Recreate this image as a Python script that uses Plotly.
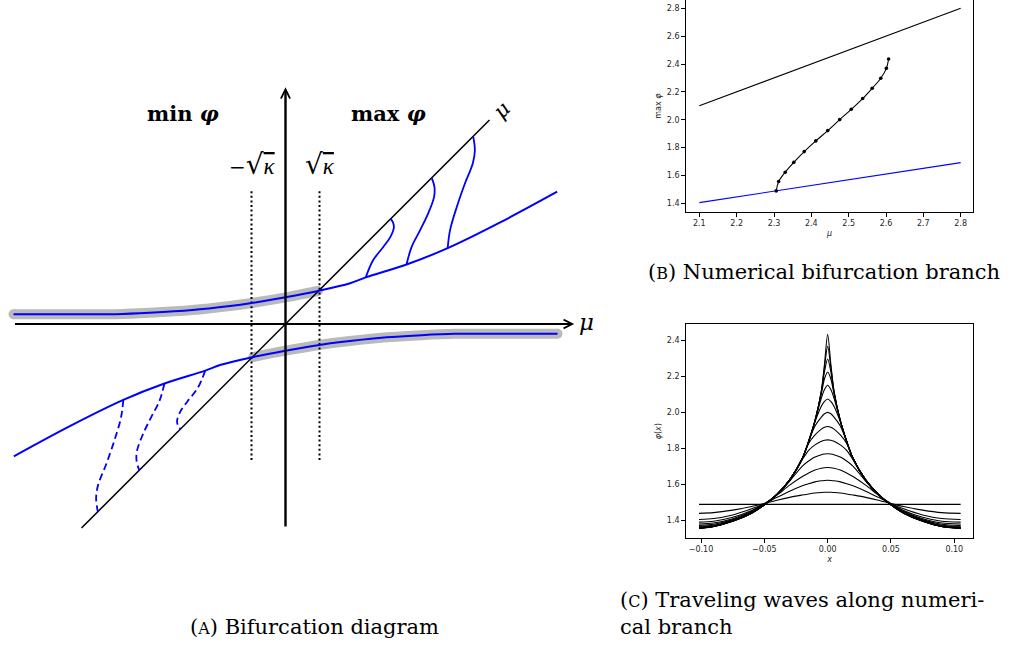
import plotly.graph_objects as go

# ---------------- panel A: schematic bifurcation diagram (units of sqrt(kappa)) ----------------
upper_x = [-8.0, -6.5, -5.0, -4.0, -2.74, -1.63, -1.04, 0.0, 0.99, 1.90, 2.36, 3.56, 4.77, 6.3, 7.99]
upper_y = [0.285, 0.285, 0.29, 0.33, 0.41, 0.53, 0.61, 0.785, 0.98, 1.20, 1.37, 1.75, 2.23, 2.98, 3.89]
lower_x = [8.0, 6.5, 5.0, 4.0, 2.74, 1.63, 1.04, 0.0, -0.99, -1.90, -2.36, -3.56, -4.77, -6.3, -7.99]
lower_y = [-0.285, -0.285, -0.29, -0.33, -0.41, -0.53, -0.61, -0.785, -0.98, -1.20, -1.37, -1.75, -2.23, -2.98, -3.89]

halo_up_x = [-8.0, -6.5, -5.0, -4.0, -2.74, -1.63, -1.04, 0.0, 0.95]
halo_up_y = [0.285, 0.285, 0.29, 0.33, 0.41, 0.53, 0.61, 0.785, 0.97]
halo_lo_x = [-0.95, 0.0, 1.04, 1.63, 2.74, 4.0, 5.0, 6.5, 8.0]
halo_lo_y = [-0.97, -0.785, -0.61, -0.53, -0.41, -0.33, -0.29, -0.285, -0.285]

diag_x = [-6.0, 6.0]
diag_y = [-6.0, 6.0]

# solid branches (max phi) and dashed branches (min phi)
solid = [
    ([2.36, 2.58, 2.88, 3.09, 3.19, 3.15, 3.09], [1.37, 1.88, 2.27, 2.57, 2.86, 3.01, 3.09]),
    ([3.56, 3.71, 3.96, 4.20, 4.37, 4.38, 4.30], [1.75, 2.27, 2.76, 3.26, 3.74, 4.04, 4.30]),
    ([4.77, 4.84, 5.04, 5.28, 5.51, 5.57, 5.52], [2.23, 2.76, 3.45, 4.14, 4.73, 5.12, 5.52]),
]
dashed = [
    ([-2.36, -2.58, -2.88, -3.09, -3.19, -3.15, -3.09], [-1.37, -1.88, -2.27, -2.57, -2.86, -3.01, -3.09]),
    ([-3.56, -3.71, -3.96, -4.20, -4.37, -4.38, -4.30], [-1.75, -2.27, -2.76, -3.26, -3.74, -4.04, -4.30]),
    ([-4.77, -4.84, -5.04, -5.28, -5.51, -5.57, -5.52], [-2.23, -2.76, -3.45, -4.14, -4.73, -5.12, -5.52]),
]
kappa_marks = [-1.0, 1.0]

# ---------------- panel B: numerical bifurcation branch ----------------
mu_line = [2.1, 2.8]
diag_line = [2.1, 2.8]
const_line = [1.405, 1.692]
branch_mu = [2.306, 2.3125, 2.330, 2.353, 2.381, 2.412, 2.444, 2.476, 2.507, 2.5375, 2.563, 2.586, 2.601, 2.607]
branch_max = [1.489, 1.556, 1.623, 1.694, 1.771, 1.848, 1.922, 2.001, 2.075, 2.152, 2.226, 2.298, 2.369, 2.436]

# ---------------- panel C: traveling waves along the branch ----------------
wave_x = [-0.1016, -0.09, -0.075, -0.06, -0.05, -0.04, -0.03, -0.02, -0.015, -0.01, -0.005, -0.0025,
          0.0, 0.0025, 0.005, 0.01, 0.015, 0.02, 0.03, 0.04, 0.05, 0.06, 0.075, 0.09, 0.105]
flat_x = [-0.1016, 0.105]
flat_y = [1.489, 1.489]
# half profiles from x=0 out to the edge (|x| = 0, .0025, .005, .01, .015, .02, .03, .04, .05, .06, .075, .09, .105)
waves_half = [
    [1.556, 1.556, 1.555, 1.552, 1.547, 1.541, 1.528, 1.512, 1.494, 1.477, 1.457, 1.443, 1.439],
    [1.623, 1.622, 1.620, 1.614, 1.604, 1.592, 1.562, 1.528, 1.493, 1.464, 1.430, 1.410, 1.405],
    [1.694, 1.693, 1.690, 1.680, 1.664, 1.644, 1.596, 1.541, 1.492, 1.455, 1.417, 1.395, 1.390],
    [1.771, 1.769, 1.765, 1.752, 1.730, 1.702, 1.618, 1.543, 1.490, 1.450, 1.409, 1.385, 1.380],
    [1.848, 1.846, 1.840, 1.820, 1.790, 1.738, 1.621, 1.544, 1.489, 1.447, 1.404, 1.378, 1.372],
    [1.922, 1.918, 1.908, 1.875, 1.828, 1.742, 1.623, 1.544, 1.488, 1.445, 1.401, 1.373, 1.367],
    [2.001, 1.993, 1.975, 1.925, 1.838, 1.744, 1.624, 1.545, 1.487, 1.443, 1.399, 1.369, 1.363],
    [2.075, 2.062, 2.035, 1.948, 1.840, 1.745, 1.625, 1.545, 1.487, 1.442, 1.397, 1.367, 1.360],
    [2.152, 2.128, 2.080, 1.953, 1.840, 1.745, 1.625, 1.545, 1.486, 1.441, 1.396, 1.366, 1.358],
    [2.226, 2.188, 2.104, 1.954, 1.840, 1.745, 1.625, 1.545, 1.486, 1.441, 1.396, 1.366, 1.357],
    [2.298, 2.228, 2.114, 1.955, 1.840, 1.745, 1.625, 1.545, 1.486, 1.440, 1.395, 1.366, 1.356],
    [2.369, 2.254, 2.118, 1.955, 1.840, 1.745, 1.625, 1.545, 1.486, 1.440, 1.395, 1.366, 1.355],
    [2.436, 2.270, 2.120, 1.955, 1.840, 1.745, 1.625, 1.545, 1.486, 1.440, 1.395, 1.366, 1.355],
]

BLUE = '#0000ff'
GRAY = '#bababa'
W, H = 1013, 646

fig = go.Figure()

# --- panel A traces
for hx, hy in [(halo_up_x, halo_up_y), (halo_lo_x, halo_lo_y)]:
    fig.add_trace(go.Scatter(x=hx, y=hy, mode='lines', line=dict(color=GRAY, width=10, shape='spline'),
                             xaxis='x', yaxis='y', hoverinfo='skip'))
    fig.add_trace(go.Scatter(x=[hx[0], hx[-1]], y=[hy[0], hy[-1]], mode='markers',
                             marker=dict(color=GRAY, size=10), xaxis='x', yaxis='y', hoverinfo='skip'))

for kx in kappa_marks:
    fig.add_trace(go.Scatter(x=[kx, kx], y=[-4.0, 3.95], mode='lines',
                             line=dict(color='black', width=2, dash='2px,2.6px'),
                             xaxis='x', yaxis='y', hoverinfo='skip'))

fig.add_trace(go.Scatter(x=diag_x, y=diag_y, mode='lines', line=dict(color='black', width=1.5),
                         xaxis='x', yaxis='y'))
fig.add_trace(go.Scatter(x=upper_x, y=upper_y, mode='lines', line=dict(color=BLUE, width=2, shape='spline'),
                         xaxis='x', yaxis='y'))
fig.add_trace(go.Scatter(x=lower_x, y=lower_y, mode='lines', line=dict(color=BLUE, width=2, shape='spline'),
                         xaxis='x', yaxis='y'))
for bx, by in solid:
    fig.add_trace(go.Scatter(x=bx, y=by, mode='lines', line=dict(color=BLUE, width=1.8, shape='spline'),
                             xaxis='x', yaxis='y'))
for bx, by in dashed:
    fig.add_trace(go.Scatter(x=bx, y=by, mode='lines',
                             line=dict(color=BLUE, width=1.8, shape='spline', dash='7px,4px'),
                             xaxis='x', yaxis='y'))

# --- panel B traces
fig.add_trace(go.Scatter(x=mu_line, y=diag_line, mode='lines', line=dict(color='black', width=1.1),
                         xaxis='x2', yaxis='y2'))
fig.add_trace(go.Scatter(x=mu_line, y=const_line, mode='lines', line=dict(color=BLUE, width=1.1),
                         xaxis='x2', yaxis='y2'))
fig.add_trace(go.Scatter(x=branch_mu, y=branch_max, mode='lines+markers',
                         line=dict(color='black', width=1.1, shape='spline'),
                         marker=dict(color='black', size=3.6), xaxis='x2', yaxis='y2'))

# --- panel C traces
fig.add_trace(go.Scatter(x=flat_x, y=flat_y, mode='lines', line=dict(color='black', width=1.1),
                         xaxis='x3', yaxis='y3'))
for half in waves_half:
    fig.add_trace(go.Scatter(x=wave_x, y=half[::-1] + half[1:], mode='lines',
                             line=dict(color='black', width=1.1, shape='spline', smoothing=0.8),
                             xaxis='x3', yaxis='y3'))

# --- axes
UNIT = 34.0
OX, OY = 285.5, 324.0
a_dom_x = [0, 0.6]
a_range_x = [(0 - OX) / UNIT, (0.6 * W - OX) / UNIT]
a_range_y = [(OY - H) / UNIT, OY / UNIT]

tickfont = dict(family='DejaVu Sans', size=8, color='#262626')
titlefont = dict(family='DejaVu Sans', size=8, color='#262626')
mpl_axis = dict(showline=True, linecolor='black', linewidth=1, ticks='outside', ticklen=3.5,
                tickwidth=0.8, tickcolor='black', tickfont=tickfont, showgrid=False, zeroline=False)

bc_dom_x = [685.7 / W, 973.3 / W]

fig.update_layout(
    width=W, height=H, margin=dict(l=0, r=0, t=0, b=0),
    paper_bgcolor='white', plot_bgcolor='rgba(0,0,0,0)', showlegend=False,
    xaxis=dict(domain=a_dom_x, range=a_range_x, visible=False),
    yaxis=dict(domain=[0, 1], range=a_range_y, visible=False),
    xaxis2=dict(domain=bc_dom_x, range=[2.0635, 2.8338], anchor='y2', mirror=False,
                tickvals=[2.1, 2.2, 2.3, 2.4, 2.5, 2.6, 2.7, 2.8], tickformat='.1f',
                title=dict(text='<i>μ</i>', font=titlefont, standoff=2), **mpl_axis),
    yaxis2=dict(domain=[1 - 212.3 / H, 1], range=[1.3353, 2.8598], anchor='x2', mirror=True,
                tickvals=[1.4, 1.6, 1.8, 2.0, 2.2, 2.4, 2.6, 2.8], tickformat='.1f',
                title=dict(text='max <i>φ</i>', font=titlefont, standoff=4), **mpl_axis),
    xaxis3=dict(domain=bc_dom_x, range=[-0.1121, 0.1150], anchor='y3', mirror=True,
                tickvals=[-0.1, -0.05, 0.0, 0.05, 0.1], tickformat='.2f',
                title=dict(text='<i>x</i>', font=titlefont, standoff=2), **mpl_axis),
    yaxis3=dict(domain=[1 - 538.3 / H, 1 - 324.0 / H], range=[1.30, 2.4928], anchor='x3', mirror=True,
                tickvals=[1.4, 1.6, 1.8, 2.0, 2.2, 2.4], tickformat='.1f',
                title=dict(text='<i>φ</i>(<i>x</i>)', font=titlefont, standoff=4), **mpl_axis),
)

SERIF = 'DejaVu Serif'
ann = []
# axes of panel A with arrow heads
ann.append(dict(x=0, y=6.96, ax=0, ay=-6.0, xref='x', yref='y', axref='x', ayref='y', text='',
                showarrow=True, arrowhead=5, arrowsize=0.75, arrowwidth=2.4, arrowcolor='black', standoff=0))
ann.append(dict(x=8.49, y=0, ax=-8.0, ay=0, xref='x', yref='y', axref='x', ayref='y', text='',
                showarrow=True, arrowhead=5, arrowsize=0.95, arrowwidth=1.8, arrowcolor='black', standoff=0))
rad = "<span style='font-size:28px'>√</span>"
kap = "<span style=\"font-family:'Liberation Serif';font-size:23px;text-decoration:overline\"><i>κ</i></span>"
txt = [
    (-3.01, 6.2, '<b>min <i>φ</i></b>', 21, 0),
    (3.03, 6.2, '<b>max <i>φ</i></b>', 21, 0),
    (-0.985, 4.7, '−' + rad + kap, 20, 0),
    (1.0, 4.7, rad + kap, 20, 0),
    (8.85, 0.05, '<i>μ</i>', 23, 0),
    (6.36, 6.29, '<i>μ</i>', 21, -45),
]
for x, y, t, s, ang in txt:
    ann.append(dict(x=x, y=y, xref='x', yref='y', text=t, showarrow=False, textangle=ang,
                    font=dict(family=SERIF, size=s, color='black')))

small = "<span style='font-size:16px'>%s</span>"
caps = [
    (314 / W, 1 - 627 / H, '(' + small % 'A' + ') Bifurcation diagram', 'center'),
    (824 / W, 1 - 272 / H, '(' + small % 'B' + ') Numerical bifurcation branch', 'center'),
    (618 / W, 1 - 600 / H, '(' + small % 'C' + ') Traveling waves along numeri-', 'left'),
    (618 / W, 1 - 627 / H, 'cal branch', 'left'),
]
for x, y, t, al in caps:
    ann.append(dict(x=x, y=y, xref='paper', yref='paper', text=t, showarrow=False,
                    xanchor=al, yanchor='middle', font=dict(family=SERIF, size=21, color='black')))

fig.update_layout(annotations=ann)
fig.write_html("out.html", config={'displayModeBar': False},
               post_script="document.body.style.margin='0';")
